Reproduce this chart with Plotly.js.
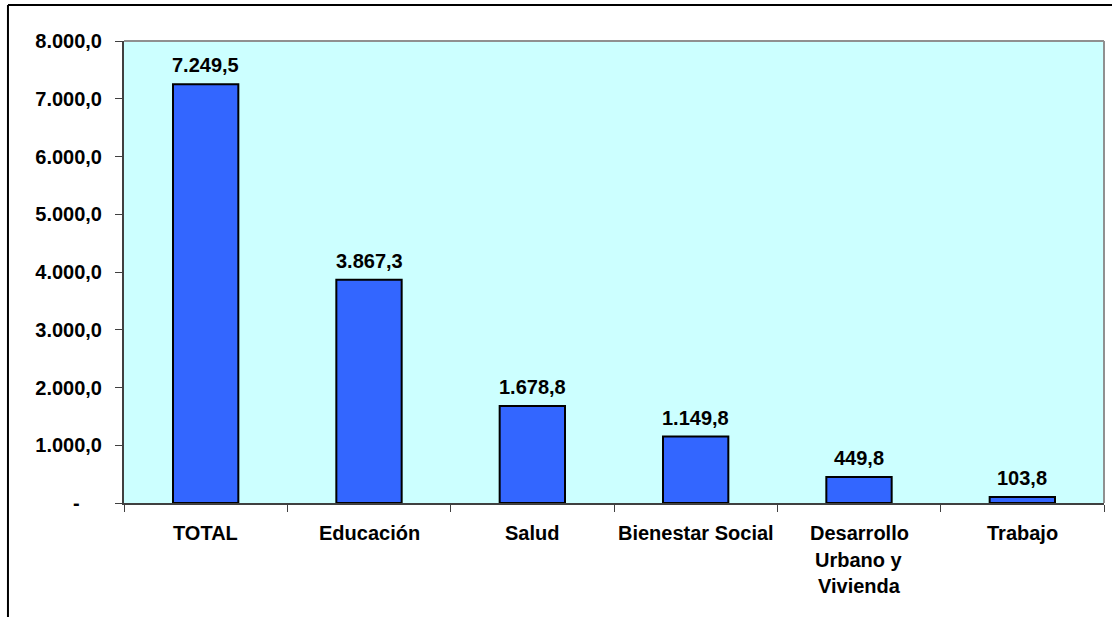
<!DOCTYPE html>
<html>
<head>
<meta charset="utf-8">
<script src="https://cdn.plot.ly/plotly-3.0.1.min.js"></script>
<style>html,body{margin:0;padding:0;background:#fff;}#chart{width:1112px;height:617px;}</style>
</head>
<body>
<div id="chart"></div>
<script>
// ---- data ----
var categories = ["TOTAL", "Educación", "Salud", "Bienestar Social", "Desarrollo Urbano y Vivienda", "Trabajo"];
var categoryLabelLines = [["TOTAL"], ["Educación"], ["Salud"], ["Bienestar Social"], ["Desarrollo", "Urbano y", "Vivienda"], ["Trabajo"]];
var values = [7249.5, 3867.3, 1678.8, 1149.8, 449.8, 103.8];
var valueLabels = ["7.249,5", "3.867,3", "1.678,8", "1.149,8", "449,8", "103,8"];
var yTickVals = [0, 1000, 2000, 3000, 4000, 5000, 6000, 7000, 8000];
var yTickText = ["-\u00a0\u00a0\u00a0\u00a0", "1.000,0", "2.000,0", "3.000,0", "4.000,0", "5.000,0", "6.000,0", "7.000,0", "8.000,0"];

var FONT = "Arial, 'Liberation Sans', sans-serif";
var FS = 20;

var annotations = [];
// value labels above bars
for (var i = 0; i < categories.length; i++) {
  annotations.push({
    x: categories[i], y: values[i], xref: "x", yref: "y",
    text: "<b>" + valueLabels[i] + "</b>", showarrow: false,
    yanchor: "bottom", xanchor: "center", yshift: 6,
    font: {family: FONT, size: FS, color: "#000"}
  });
}
// category labels (multi-line with wider spacing)
for (var j = 0; j < categories.length; j++) {
  var lines = categoryLabelLines[j];
  for (var k = 0; k < lines.length; k++) {
    annotations.push({
      x: categories[j], y: 0, xref: "x", yref: "paper",
      text: "<b>" + lines[k] + "</b>", showarrow: false,
      yanchor: "middle", xanchor: "center", yshift: -30 - k * 26.7,
      font: {family: FONT, size: FS, color: "#000"}
    });
  }
}

var trace = {
  type: "bar",
  x: categories,
  y: values,
  width: 0.4,
  marker: {color: "#3366FF", line: {color: "#000000", width: 2}},
  hoverinfo: "none"
};

var layout = {
  width: 1112, height: 617,
  margin: {l: 124, r: 8, t: 41, b: 114, pad: 0},
  paper_bgcolor: "#ffffff",
  plot_bgcolor: "#CCFFFF",
  showlegend: false,
  separators: ",.",
  font: {family: FONT, size: FS, color: "#000"},
  xaxis: {
    type: "category",
    showticklabels: false,
    tickson: "boundaries",
    ticks: "outside", ticklen: 7, tickwidth: 1, tickcolor: "#404040",
    showline: true, linecolor: "#404040", linewidth: 2,
    showgrid: false, zeroline: false, fixedrange: true
  },
  yaxis: {
    range: [0, 8000],
    tickvals: yTickVals, ticktext: yTickText,
    ticks: "outside", ticklen: 7, tickwidth: 1, tickcolor: "#404040",
    ticklabelstandoff: 9,
    tickfont: {family: FONT, size: FS, color: "#000", weight: "bold"},
    showline: true, linecolor: "#404040", linewidth: 2,
    showgrid: false, zeroline: false, fixedrange: true
  },
  annotations: annotations,
  shapes: [
    // plot area top & right border (gray)
    {type: "line", xref: "paper", yref: "paper", x0: 0, x1: 1, y0: 1, y1: 1, line: {color: "#909090", width: 2}},
    {type: "line", xref: "paper", yref: "paper", x0: 1, x1: 1, y0: 0, y1: 1, line: {color: "#909090", width: 2}},
    // outer frame (left and top)
    {type: "line", xref: "paper", yref: "paper", x0: -0.1184, x1: -0.1184, y0: -0.3, y1: 1.0779, line: {color: "#000", width: 2}},
    {type: "line", xref: "paper", yref: "paper", x0: -0.1184, x1: 1.05, y0: 1.0779, y1: 1.0779, line: {color: "#000", width: 2}}
  ]
};

Plotly.newPlot("chart", [trace], layout, {staticPlot: true, displayModeBar: false});
</script>
</body>
</html>
